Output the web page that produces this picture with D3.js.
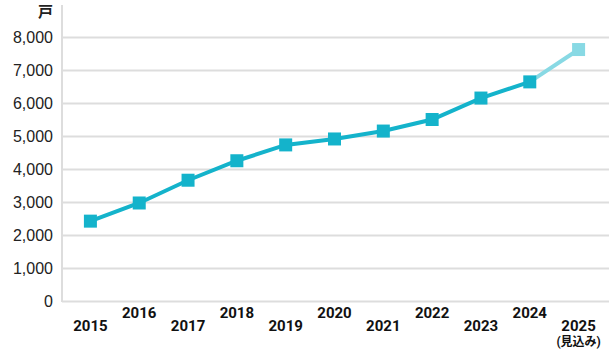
<!DOCTYPE html>
<html>
<head>
<meta charset="utf-8">
<script src="https://cdn.jsdelivr.net/npm/d3@7"></script>
<style>
  body { margin: 0; background: #fff; }
  svg { display: block; font-family: Roboto, "Noto Sans CJK JP", sans-serif; }
</style>
</head>
<body>
<div id="mainbox"></div>
<script>
const years = ['2015','2016','2017','2018','2019','2020','2021','2022','2023','2024','2025'];
const units = [2420, 2970, 3660, 4250, 4730, 4910, 5150, 5500, 6150, 6640, 7620];
const yTicks = [0, 1000, 2000, 3000, 4000, 5000, 6000, 7000, 8000];
const unitLabel = '戸';
const forecastNote = '(見込み)';

const w_svg = 609, h_svg = 352;
const margin = {t: 37, r: 0, b: 51, l: 62};

let svgMain = d3.select('#mainbox')
  .append('svg')
  .attr('width', w_svg)
  .attr('height', h_svg);

const scaleX = d3.scalePoint().domain(years).range([66, 603]).padding(0.5);
const scaleY = d3.scaleLinear().domain([0, 8000]).range([h_svg - margin.b, margin.t]);

// gridlines
const axisY = d3.axisLeft(scaleY)
  .tickValues(yTicks)
  .tickSize(-(w_svg - margin.l))
  .tickFormat(d3.format(','));

const axisYNode = svgMain.append('g')
  .attr('class', 'axis axis-y')
  .attr('transform', `translate(${margin.l},0)`)
  .call(axisY);
axisYNode.select('.domain').remove();
axisYNode.selectAll('line').attr('stroke', '#dddddd').attr('stroke-width', 2);
axisYNode.selectAll('text')
  .attr('x', -9)
  .attr('dy', '0.36em')
  .attr('fill', '#222')
  .style('font-size', '16px')
  .style('font-weight', 500);

// vertical axis line
svgMain.append('line')
  .attr('x1', margin.l).attr('x2', margin.l)
  .attr('y1', 5).attr('y2', scaleY(0) + 1)
  .attr('stroke', '#dddddd').attr('stroke-width', 2);

svgMain.append('text')
  .attr('x', 53).attr('y', 17)
  .attr('text-anchor', 'end')
  .attr('fill', '#222')
  .style('font-size', '15px')
  .style('font-weight', 700)
  .text(unitLabel);

// x labels, staggered
svgMain.selectAll('.xlab')
  .data(years)
  .enter()
  .append('text')
  .attr('class', 'xlab')
  .attr('x', d => scaleX(d))
  .attr('y', (d, i) => i % 2 === 0 ? 331 : 318)
  .attr('text-anchor', 'middle')
  .attr('fill', '#111')
  .style('font-size', '15px')
  .style('font-weight', 700)
  .text(d => d);

svgMain.append('text')
  .attr('x', scaleX('2025'))
  .attr('y', 346)
  .attr('text-anchor', 'middle')
  .attr('fill', '#111')
  .style('font-size', '12px')
  .style('font-weight', 700)
  .text(forecastNote);

const pts = years.map((y, i) => ({year: y, v: units[i]}));
const line = d3.line().x(d => scaleX(d.year)).y(d => scaleY(d.v));

svgMain.append('path')
  .datum(pts.slice(0, 10))
  .attr('d', line)
  .attr('fill', 'none')
  .attr('stroke', '#14b3cb')
  .attr('stroke-width', 4);

svgMain.append('path')
  .datum(pts.slice(9))
  .attr('d', line)
  .attr('fill', 'none')
  .attr('stroke', '#88d9e4')
  .attr('stroke-width', 4);

const sz = 13;
svgMain.selectAll('.marker')
  .data(pts)
  .enter()
  .append('rect')
  .attr('class', 'marker')
  .attr('x', d => scaleX(d.year) - sz / 2)
  .attr('y', d => scaleY(d.v) - sz / 2)
  .attr('width', sz)
  .attr('height', sz)
  .attr('fill', (d, i) => i === 10 ? '#88d9e4' : '#14b3cb');
</script>
</body>
</html>
